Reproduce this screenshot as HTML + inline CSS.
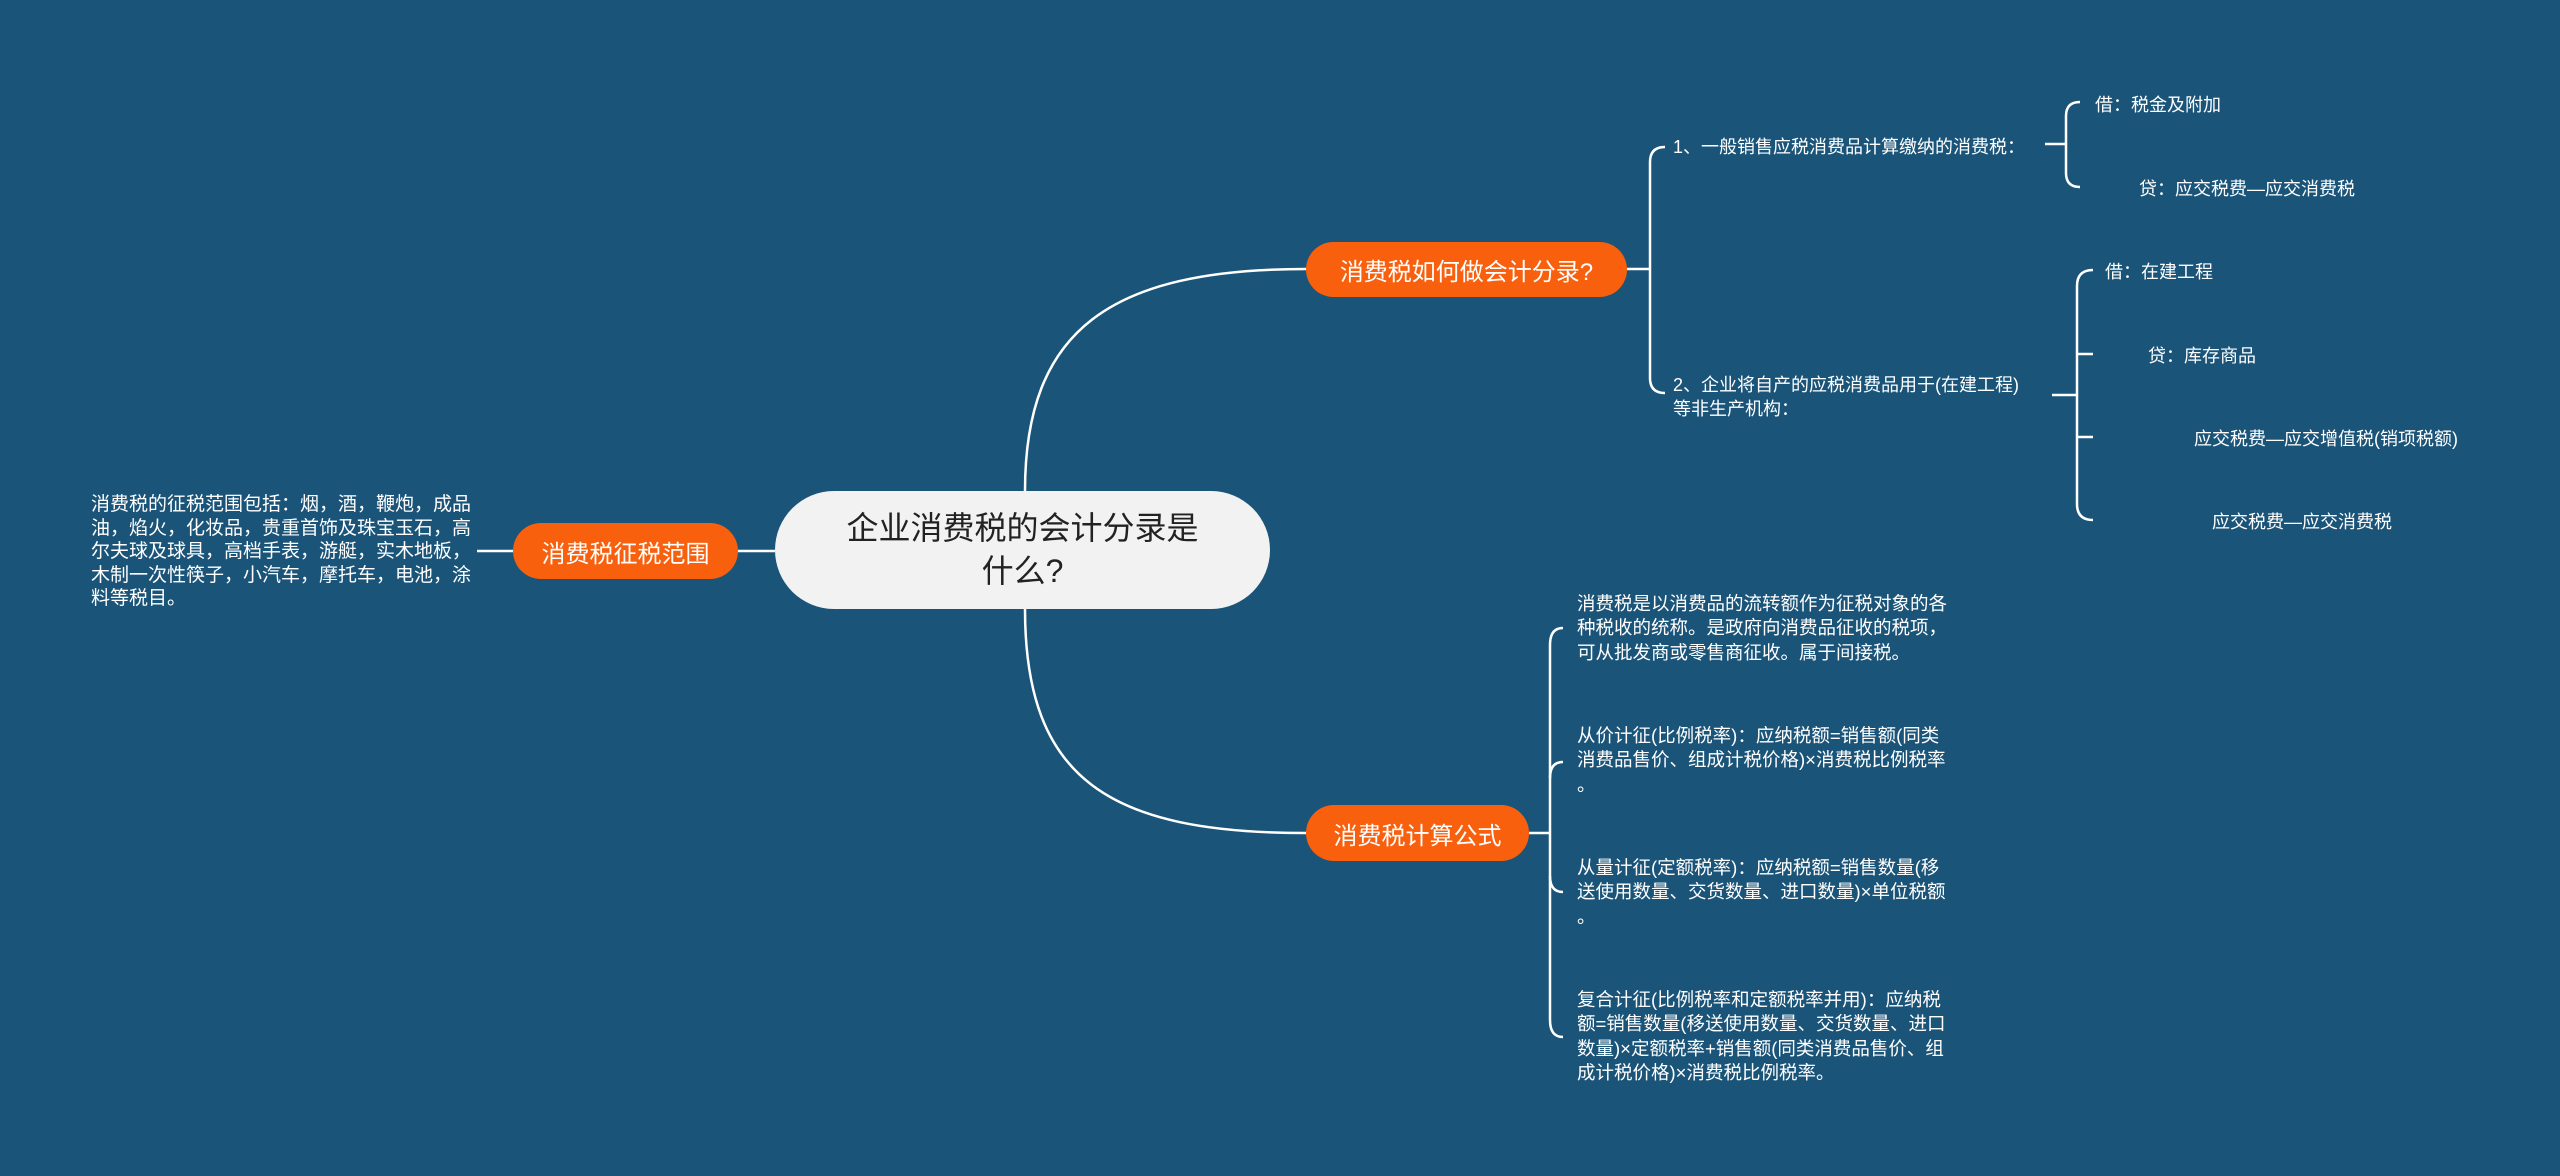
<!DOCTYPE html>
<html><head><meta charset="utf-8"><style>
body{margin:0;width:2560px;height:1176px;background:#1b5479;position:relative;overflow:hidden;font-family:"Liberation Sans","Noto Sans CJK SC",sans-serif;color:#fff}
.t{position:absolute;white-space:nowrap}
.node{position:absolute;background:#f8600e;border-radius:28px;color:#fff;font-size:24px;display:flex;align-items:center;justify-content:center}
svg{position:absolute;left:0;top:0}
</style></head><body>
<svg width="2560" height="1176" fill="none" stroke="#fff" stroke-width="2.5">
<path d="M1025 491 C1025 330 1110 269 1306 269"/>
<path d="M1025 609 C1025 780 1110 833 1306 833"/>
<path d="M738 551 L775 551"/>
<path d="M477 551 L513 551"/>
<path d="M1627 269 L1650 269"/>
<path d="M1665 147 Q1650 147 1650 162 L1650 378 Q1650 393 1665 393"/>
<path d="M2045 144 L2066 144"/>
<path d="M2080 102 Q2066 102 2066 116 L2066 173 Q2066 187 2080 187"/>
<path d="M2052 395 L2077 395"/>
<path d="M2093 270 Q2077 270 2077 286 L2077 504 Q2077 520 2093 520"/>
<path d="M2077 354 Q2077 354 2093 354"/>
<path d="M2077 437 Q2077 437 2093 437"/>
<path d="M1529 833 L1550 833"/>
<path d="M1563 628 Q1550 628 1550 645 L1550 1020 Q1550 1037 1563 1037"/>
<path d="M1550 778 Q1550 762 1563 762"/>
<path d="M1550 876 Q1550 892 1563 892"/>
</svg>
<div style="position:absolute;left:775px;top:491px;width:495px;height:118px;background:#f2f2f2;border-radius:59px;color:#222;font-size:32px;line-height:43px;text-align:center;display:flex;align-items:center;justify-content:center">企业消费税的会计分录是<br>什么?</div>
<div class="node" style="left:1306px;top:242px;width:321px;height:55px">消费税如何做会计分录?</div>
<div class="node" style="left:1306px;top:805px;width:223px;height:56px">消费税计算公式</div>
<div class="node" style="left:513px;top:523px;width:225px;height:56px">消费税征税范围</div>
<div class="t" style="left:91px;top:493px;font-size:19px;line-height:23.5px">消费税的征税范围包括：烟，酒，鞭炮，成品<br>油，焰火，化妆品，贵重首饰及珠宝玉石，高<br>尔夫球及球具，高档手表，游艇，实木地板，<br>木制一次性筷子，小汽车，摩托车，电池，涂<br>料等税目。</div>
<div class="t" style="left:1673px;top:135px;font-size:18px;line-height:24px">1、一般销售应税消费品计算缴纳的消费税：</div>
<div class="t" style="left:1673px;top:373px;font-size:18px;line-height:24px">2、企业将自产的应税消费品用于(在建工程)<br>等非生产机构：</div>
<div class="t" style="left:2095px;top:91px;font-size:18px">借：税金及附加</div>
<div class="t" style="left:2139px;top:175px;font-size:18px">贷：应交税费—应交消费税</div>
<div class="t" style="left:2105px;top:258px;font-size:18px">借：在建工程</div>
<div class="t" style="left:2148px;top:342px;font-size:18px">贷：库存商品</div>
<div class="t" style="left:2194px;top:425px;font-size:18px">应交税费—应交增值税(销项税额)</div>
<div class="t" style="left:2212px;top:508px;font-size:18px">应交税费—应交消费税</div>
<div class="t" style="left:1577px;top:592px;font-size:18.5px;line-height:24.3px">消费税是以消费品的流转额作为征税对象的各<br>种税收的统称。是政府向消费品征收的税项，<br>可从批发商或零售商征收。属于间接税。</div>
<div class="t" style="left:1577px;top:724px;font-size:18.5px;line-height:24.3px">从价计征(比例税率)：应纳税额=销售额(同类<br>消费品售价、组成计税价格)×消费税比例税率<br>。</div>
<div class="t" style="left:1577px;top:856px;font-size:18.5px;line-height:24.3px">从量计征(定额税率)：应纳税额=销售数量(移<br>送使用数量、交货数量、进口数量)×单位税额<br>。</div>
<div class="t" style="left:1577px;top:988px;font-size:18.5px;line-height:24.3px">复合计征(比例税率和定额税率并用)：应纳税<br>额=销售数量(移送使用数量、交货数量、进口<br>数量)×定额税率+销售额(同类消费品售价、组<br>成计税价格)×消费税比例税率。</div>
</body></html>
